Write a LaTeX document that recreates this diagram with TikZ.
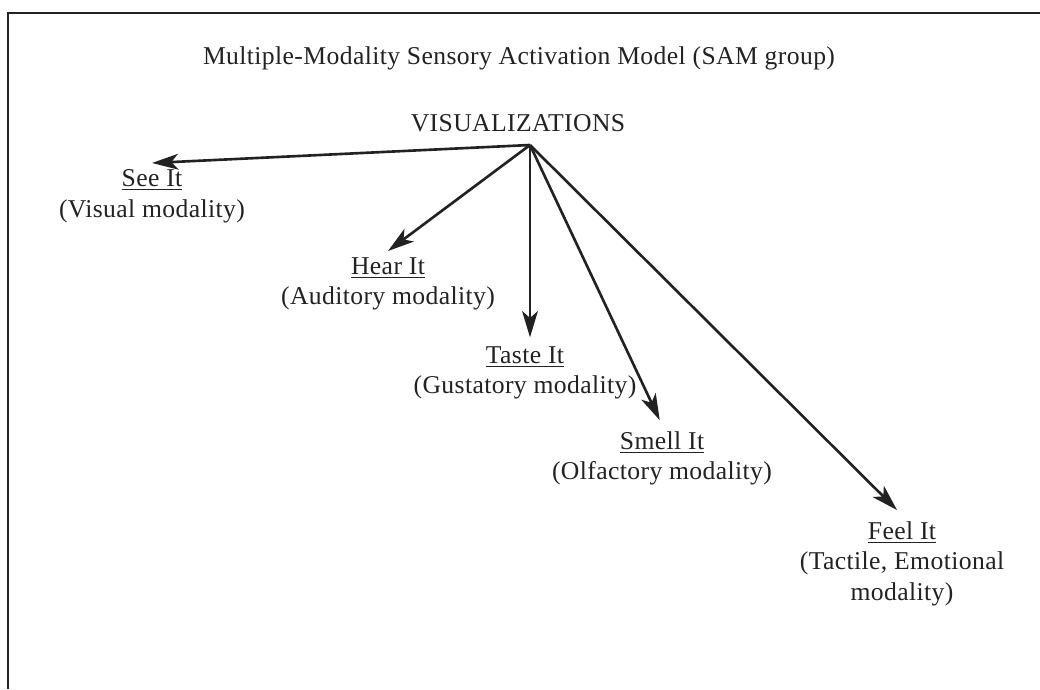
\documentclass[tikz,border=0pt]{standalone}
\usepackage{fontspec}
\setmainfont{Liberation Serif}[LetterSpace=1.5]
\usetikzlibrary{arrows.meta}
\definecolor{samink}{RGB}{34,34,34}

\begin{document}
\begin{tikzpicture}[x=0.02cm,y=-0.02cm,line width=1.5pt,>={Stealth[length=15pt,width=9pt,inset=4pt]},
  txt/.style={text=samink,inner sep=0pt,font=\fontsize{14.6}{17.4}\selectfont},
  sense/.style={txt,align=center,anchor=north,inner sep=3pt},
  ray/.style={samink,->}]
  \useasboundingbox (0,0) rectangle (1040,689);
  % frame
  \draw[samink,line width=1.2pt] (8,689) -- (8,13) -- (1040,13);
  \node[txt,anchor=base] (title) at (519,65) {Multiple-Modality Sensory Activation Model (SAM group)};
  \node[txt,anchor=base] (vis) at (518,132) {VISUALIZATIONS};
  \coordinate (apex) at (530,145);
  % the five senses
  \node[sense] (see) at (152,163) {\underline{See It}\\(Visual modality)};
  \node[sense] (hear) at (388,251) {\underline{Hear It}\\(Auditory modality)};
  \node[sense] (taste) at (525,340) {\underline{Taste It}\\(Gustatory modality)};
  \node[sense] (smell) at (662,425) {\underline{Smell It}\\(Olfactory modality)};
  \node[sense] (feel) at (902,515) {\underline{Feel It}\\(Tactile, Emotional\\modality)};
  \draw[ray] (apex) -- (see.north);
  \draw[ray] (apex) -- (hear.north);
  \draw[ray,shorten >=1.5pt] (apex) -- (apex |- taste.north);
  \draw[ray,shorten >=3pt] (apex) -- (smell.north);
  \draw[ray,shorten >=4pt] (apex) -- (feel.north);
\end{tikzpicture}
\end{document}
